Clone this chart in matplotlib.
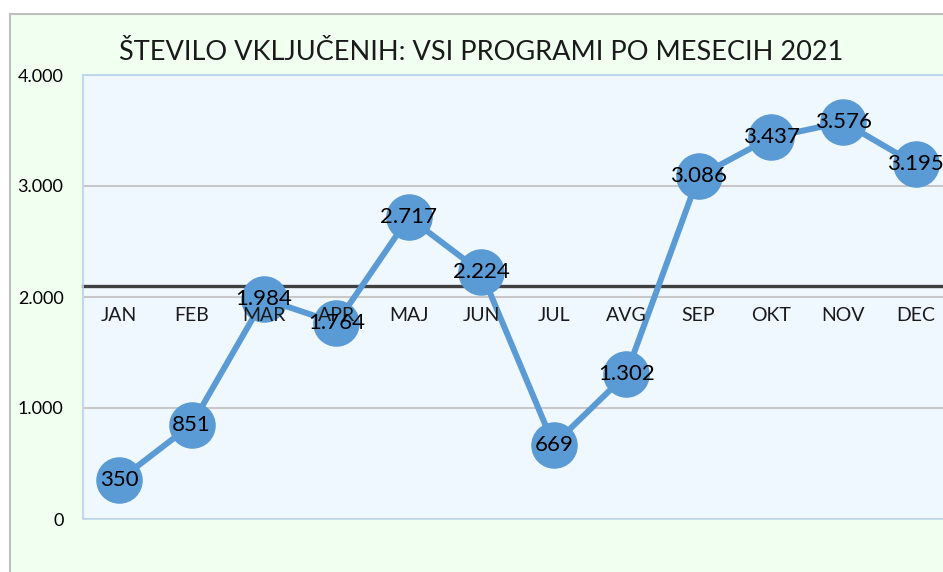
import matplotlib
matplotlib.use("Agg")
import matplotlib.pyplot as plt
from matplotlib.patches import Rectangle
from matplotlib.ticker import FuncFormatter
import numpy as np

months = ["JAN", "FEB", "MAR", "APR", "MAJ", "JUN", "JUL", "AVG", "SEP", "OKT", "NOV", "DEC"]
values = [350, 851, 1984, 1764, 2717, 2224, 669, 1302, 3086, 3437, 3576, 3195]
title = "ŠTEVILO VKLJUČENIH: VSI PROGRAMI PO MESECIH 2021"
y_ticks = [0, 1000, 2000, 3000, 4000]

plt.rcParams['font.family'] = ['Lato', 'DejaVu Sans']

def fmt(v):
    return f"{int(round(v)):,}".replace(",", ".")

W, H = 943, 572
fig = plt.figure(figsize=(W / 100, H / 100), dpi=100)
fig.patch.set_facecolor("white")

# outer chart frame
frame = Rectangle((10 / W, -0.05), 1.1, 1 - 14 / H + 0.05,
                  transform=fig.transFigure, facecolor="#F0FFF0",
                  edgecolor="#BFBFBF", linewidth=1.5, zorder=-10)
fig.patches.append(frame)

ax = fig.add_axes([83 / W, 1 - 519 / H, 869 / W, 444 / H])
ax.set_zorder(1)
ax.set_facecolor("#F0F8FF")

x = np.arange(len(months))
avg = np.mean(values)

ax.plot(x, values, color="#5B9BD5", linewidth=4.3, marker="o", markersize=32.5,
        markerfacecolor="#5B9BD5", markeredgecolor="#5B9BD5", zorder=2,
        solid_capstyle="round")
for xi, v in zip(x, values):
    ax.text(xi, v, fmt(v), ha="center", va="center", fontsize=16,
            color="black", zorder=5)

ax.set_xlim(-0.5, len(months) - 0.5)
ax.set_ylim(0, 4000)
ax.set_yticks(y_ticks)
ax.yaxis.set_major_formatter(FuncFormatter(lambda v, p: fmt(v)))
ax.set_xticks(x)
ax.set_xticklabels(months)

ax.tick_params(axis="y", length=0, pad=14, labelsize=13, labelcolor="black")
ax.tick_params(axis="x", length=0, pad=15, labelsize=14, labelcolor="#1a1a1a")

ax.yaxis.grid(True, color="#C8C8C8", linewidth=1.5)
ax.xaxis.grid(False)
ax.yaxis.set_zorder(0.5)
ax.xaxis.set_zorder(3)

for s in ["top", "right", "left"]:
    ax.spines[s].set_color("#BDD7EE")
    ax.spines[s].set_linewidth(1.2)
ax.spines["right"].set_visible(False)
ax.spines["bottom"].set_position(("data", avg))
ax.spines["bottom"].set_color("#404040")
ax.spines["bottom"].set_linewidth(2.4)
ax.spines["bottom"].set_zorder(1.5)
ax.add_patch(Rectangle((0, 0), 1, 1, transform=ax.transAxes, fill=False,
                       edgecolor="#BDD7EE", linewidth=1.2, zorder=1, clip_on=False))

fig.text(481.5 / W, 1 - 52 / H, title, ha="center", va="center", fontsize=19.5,
         color="#1a1a1a")

fig.savefig("out.png", dpi=100, facecolor="white")
